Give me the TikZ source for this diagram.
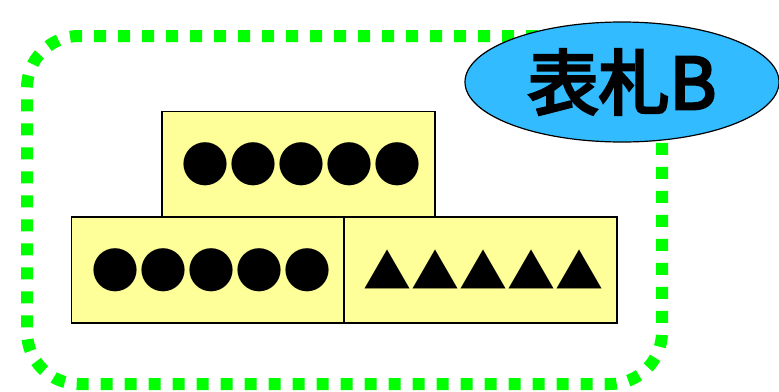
\documentclass[tikz,border=0pt]{standalone}
\usepackage{fontspec}
\setmainfont{Noto Sans CJK JP}
\newfontfamily\platefont{Noto Sans CJK JP}[FakeBold=4]
\usetikzlibrary{shapes.geometric}
\definecolor{framegreen}{RGB}{0, 255, 0}
\definecolor{tileyellow}{RGB}{255, 255, 153}
\definecolor{sealblue}{RGB}{51, 187, 255}

\begin{document}
\begin{tikzpicture}[
  x=1pt, y=-1pt,
  tile/.style={draw=black, line width=1.5pt, fill=tileyellow, minimum width=273pt, minimum height=106pt, inner sep=0pt, font=\fontsize{48}{48}\selectfont},
  seal/.style={ellipse, draw=black, line width=1.2pt, fill=sealblue, minimum width=314pt, minimum height=120pt, inner sep=0pt, font=\fontsize{71}{74}\platefont},
]
\useasboundingbox (0,0) rectangle (779,391);

% Dotted frame
\node[draw=framegreen, line width=12pt, dash pattern=on 12pt off 12pt, rounded corners=52pt, minimum width=635pt, minimum height=348pt, inner sep=0pt] (frame) at (344.5,210) {};

% Tiles
\node[tile] (upper) at (298.5,164.5) {\hspace{6pt}●●●●●};
\node[tile] (lowleft) at (208,270) {\hspace{6pt}●●●●●};
\node[tile] (lowright) at (480.5,270) {\hspace{6pt}▲▲▲▲▲};

% Name plate
\node[seal] (plate) at (622,82) {\raisebox{-3pt}{表札B}};
\end{tikzpicture}
\end{document}
